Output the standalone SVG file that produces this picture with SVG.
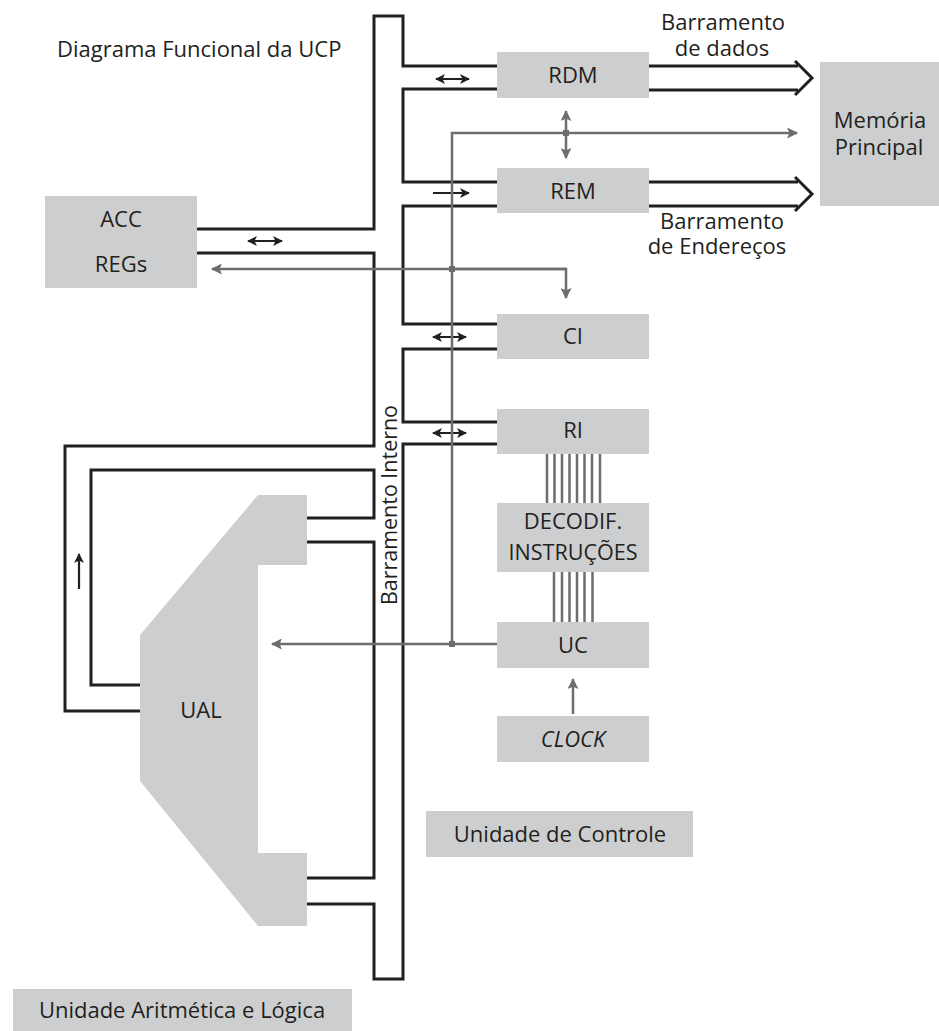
<svg xmlns="http://www.w3.org/2000/svg" width="939" height="1031" viewBox="0 0 939 1031">
<style>
.box{fill:#cdcecf;}
.t{font-family:"Open Sans","Noto Sans","Liberation Sans",sans-serif;font-size:22px;fill:#231f20;text-anchor:middle;}
.tl{text-anchor:start;}
.k{fill:none;stroke:#231f20;stroke-width:3;stroke-linejoin:miter;}
.g{fill:none;stroke:#6d6e70;stroke-width:2.5;}
.ka{fill:none;stroke:#231f20;stroke-width:2.2;}
.dot{fill:#6d6e70;}
</style>
<defs>
<marker id="ah" viewBox="0 0 10 10" refX="9" refY="5" markerWidth="10" markerHeight="10" markerUnits="userSpaceOnUse" orient="auto-start-reverse"><path d="M0,0 L10,5 L0,10 L2.5,5 Z" fill="#231f20"/></marker>
<marker id="gh" viewBox="0 0 10 10" refX="9" refY="5" markerWidth="13" markerHeight="11" markerUnits="userSpaceOnUse" orient="auto-start-reverse"><path d="M0,0 L10,5 L0,10 L2,5 Z" fill="#6d6e70"/></marker>
</defs>

<text class="t tl" x="57" y="57">Diagrama Funcional da UCP</text>

<g id="connectors">
  <path class="k" d="M197,229 H374 V16 H403 V66 H497"/>
  <path class="k" d="M497,89 H403 V182 H497"/>
  <path class="k" d="M497,206 H403 V324 H497"/>
  <path class="k" d="M497,349 H403 V422 H497"/>
  <path class="k" d="M497,444 H403 V979 H374 V904 H307"/>
  <path class="k" d="M307,878 H374 V542 H307"/>
  <path class="k" d="M307,518 H374 V470 H91 V685 H140"/>
  <path class="k" d="M140,711 H65 V446 H374 V253 H197"/>
  <path class="k" d="M649,66 H798 M649,90 H798 M795,61 L812,78 L795,95"/>
  <path class="k" d="M649,182 H798 M649,206 H798 M795,177 L812,194 L795,211"/>
  <line class="ka" x1="436" y1="79" x2="469" y2="79" marker-start="url(#ah)" marker-end="url(#ah)"/>
  <line class="ka" x1="433" y1="193" x2="469" y2="193" marker-end="url(#ah)"/>
  <line class="ka" x1="248" y1="241" x2="282" y2="241" marker-start="url(#ah)" marker-end="url(#ah)"/>
  <line class="ka" x1="433" y1="337" x2="466" y2="337" marker-start="url(#ah)" marker-end="url(#ah)"/>
  <line class="ka" x1="433" y1="433" x2="466" y2="433" marker-start="url(#ah)" marker-end="url(#ah)"/>
  <line class="ka" x1="79" y1="589" x2="79" y2="554" marker-end="url(#ah)"/>
  <path class="g" d="M452,644 V133 H797" marker-end="url(#gh)"/>
  <path class="g" d="M497,644 H272" marker-end="url(#gh)"/>
  <path class="g" d="M566,269 H212" marker-end="url(#gh)"/>
  <path class="g" d="M452,269 H566 V298" marker-end="url(#gh)"/>
  <line class="g" x1="566" y1="111" x2="566" y2="158" marker-start="url(#gh)" marker-end="url(#gh)"/>
  <line class="g" x1="573" y1="714" x2="573" y2="679" marker-end="url(#gh)"/>
  <rect class="dot" x="449" y="266" width="6" height="6"/>
  <rect class="dot" x="563" y="130" width="6" height="6"/>
  <rect class="dot" x="449" y="641" width="6" height="6"/>
  <path class="g" stroke-width="1.6" d="M547,454 V503 M554.5,454 V503 M562,454 V503 M569.5,454 V503 M577,454 V503 M584.5,454 V503 M592,454 V503 M600,454 V503"/>
  <path class="g" stroke-width="1.6" d="M554,572 V622 M562,572 V622 M569.5,572 V622 M577,572 V622 M584.5,572 V622 M592.5,572 V622"/>
</g>

<text class="t" transform="translate(397,505) rotate(-90)" textLength="200" lengthAdjust="spacingAndGlyphs">Barramento Interno</text>
<text class="t" x="723" y="30">Barramento<tspan x="722" dy="26">de dados</tspan></text>
<text class="t" x="722" y="229">Barramento<tspan x="717" dy="25">de Endereços</tspan></text>

<g id="rdm"><rect class="box" x="497" y="52" width="152" height="46"/><text class="t" x="573" y="83">RDM</text></g>
<g id="rem"><rect class="box" x="497" y="168" width="152" height="45"/><text class="t" x="573" y="199">REM</text></g>
<g id="mem"><rect class="box" x="820" y="62" width="119" height="144"/><text class="t" x="880" y="128">Memória<tspan x="879" dy="27">Principal</tspan></text></g>
<g id="acc"><rect class="box" x="45" y="196" width="152" height="92"/><text class="t" x="121" y="227">ACC</text><text class="t" x="121" y="272">REGs</text></g>
<g id="ci"><rect class="box" x="497" y="314" width="152" height="45"/><text class="t" x="573" y="344">CI</text></g>
<g id="ri"><rect class="box" x="497" y="409" width="152" height="45"/><text class="t" x="573" y="438">RI</text></g>
<g id="decod"><rect class="box" x="497" y="503" width="152" height="69"/><text class="t" x="573" y="529">DECODIF.<tspan x="573" dy="31" textLength="129" lengthAdjust="spacingAndGlyphs">INSTRUÇÕES</tspan></text></g>
<g id="uc"><rect class="box" x="497" y="622" width="152" height="46"/><text class="t" x="573" y="653">UC</text></g>
<g id="clock"><rect class="box" x="497" y="716" width="152" height="46"/><text class="t" x="573" y="747" font-style="italic">CLOCK</text></g>
<g id="ual"><path class="box" d="M258,495 H307 V565 H258 V853 H307 V926 H258 L140,781 V635 Z"/><text class="t" x="201" y="718">UAL</text></g>
<g id="uctrl"><rect class="box" x="426" y="811" width="267" height="46"/><text class="t" x="560" y="842">Unidade de Controle</text></g>
<g id="ularit"><rect class="box" x="13" y="989" width="339" height="42"/><text class="t" x="182" y="1018">Unidade Aritmética e Lógica</text></g>
</svg>
